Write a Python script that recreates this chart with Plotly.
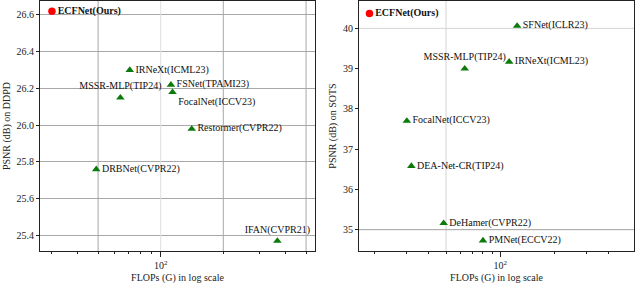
import plotly.graph_objects as go

# ---------------- data ----------------
left_models = ["ECFNet(Ours)", "IRNeXt(ICML23)", "MSSR-MLP(TIP24)", "FSNet(TPAMI23)",
               "FocalNet(ICCV23)", "Restormer(CVPR22)", "DRBNet(CVPR22)", "IFAN(CVPR21)"]
left_flops = [30, 71, 64, 112, 114, 141, 49, 364]
left_psnr = [26.62, 26.30, 26.15, 26.22, 26.18, 25.98, 25.76, 25.37]
left_textpos = ["middle right", "middle right", "top center", "middle right",
                "bottom right", "middle right", "middle right", "top center"]

right_models = ["ECFNet(Ours)", "SFNet(ICLR23)", "MSSR-MLP(TIP24)", "IRNeXt(ICML23)",
                "FocalNet(ICCV23)", "DEA-Net-CR(TIP24)", "DeHamer(CVPR22)", "PMNet(ECCV22)"]
right_flops = [18.8, 124, 63.5, 112, 30.3, 32.1, 48.5, 80.2]
right_psnr = [40.37, 40.06, 39.0, 39.17, 37.70, 36.58, 35.16, 34.73]
right_textpos = ["middle right", "middle right", "top center", "middle right",
                 "middle right", "middle right", "middle right", "middle right"]

left_yticks = [25.4, 25.6, 25.8, 26.0, 26.2, 26.4, 26.6]
right_yticks = [35, 36, 37, 38, 39, 40]
left_minor_x = [30, 40, 50, 60, 70, 80, 90, 200, 300, 400, 500]
right_minor_x = [20, 30, 40, 50, 60, 70, 80, 90, 200, 300, 400]

# grid lines (value, colour)
left_vgrid = [(50, "#a8a8a8"), (100, "#dedede"), (200, "#a8a8a8"), (500, "#a8a8a8")]
right_vgrid = [(50, "#d4d4d4")]
right_hgrid = [(40, "#d4d4d4"), (35, "#a0a0a0")]

FONT = "Liberation Serif, Times New Roman, Times, serif"
GREEN = "#0b7a0b"
RED = "#ff0000"

left_yrange = [25.3155, 26.676]
right_yrange = [34.47, 40.68]
left_xrange = [1.4197, 2.742]
right_xrange = [1.216, 2.742]

fig = go.Figure()

# grid lines as thin traces (per-line colours)
for v, c in left_vgrid:
    fig.add_trace(go.Scatter(x=[v, v], y=left_yrange, mode="lines", line=dict(color=c, width=1),
                             hoverinfo="skip", showlegend=False, xaxis="x", yaxis="y"))
for v, c in right_vgrid:
    fig.add_trace(go.Scatter(x=[v, v], y=right_yrange, mode="lines", line=dict(color=c, width=1),
                             hoverinfo="skip", showlegend=False, xaxis="x2", yaxis="y2"))
for v, c in right_hgrid:
    fig.add_trace(go.Scatter(x=[10 ** right_xrange[0], 10 ** right_xrange[1]], y=[v, v], mode="lines",
                             line=dict(color=c, width=1), hoverinfo="skip", showlegend=False,
                             xaxis="x2", yaxis="y2"))


def add_points(models, flops, psnr, pos, xa, ya):
    labels = ["<b>%s</b>" % m if "Ours" in m else m for m in models]
    colors = [RED if "Ours" in m else GREEN for m in models]
    symbols = ["circle" if "Ours" in m else "triangle-up" for m in models]
    fig.add_trace(go.Scatter(
        x=flops, y=psnr, mode="markers+text", text=labels, textposition=pos,
        textfont=dict(family=FONT, size=10, color="#111111"),
        marker=dict(color=colors, symbol=symbols, size=7.5, line=dict(width=0)),
        showlegend=False, xaxis=xa, yaxis=ya, cliponaxis=False))


add_points(left_models, left_flops, left_psnr, left_textpos, "x", "y")
add_points(right_models, right_flops, right_psnr, right_textpos, "x2", "y2")

axis_common = dict(showline=True, linecolor="#222222", linewidth=1, mirror=True, automargin=False,
                   ticks="outside", ticklen=3, tickcolor="#222222", zeroline=False,
                   tickfont=dict(family=FONT, size=10, color="#222222"))

xcommon = dict(axis_common, type="log", tickvals=[100], ticktext=["10<sup>2</sup>"], showgrid=False,
               ticklen=5,
               title=dict(text="FLOPs (G) in log scale", font=dict(family=FONT, size=10, color="#222222"),
                          standoff=4))

fig.update_layout(
    width=640, height=284, margin=dict(l=0, r=0, t=0, b=0),
    paper_bgcolor="white", plot_bgcolor="white",
    xaxis=dict(xcommon, domain=[40 / 640, 315 / 640], range=left_xrange, anchor="y",
               minor=dict(tickvals=left_minor_x, ticks="outside", ticklen=2, tickcolor="#222222", showgrid=False)),
    xaxis2=dict(xcommon, domain=[359 / 640, 634 / 640], range=right_xrange, anchor="y2",
                minor=dict(tickvals=right_minor_x, ticks="outside", ticklen=2, tickcolor="#222222", showgrid=False)),
    yaxis=dict(axis_common, domain=[1 - 251 / 284, 1 - 1 / 284], range=left_yrange, anchor="x",
               tickvals=left_yticks, ticktext=["%.1f" % v for v in left_yticks],
               showgrid=True, gridcolor="#a8a8a8", gridwidth=1,
               title=dict(text="PSNR (dB) on DDPD", font=dict(family=FONT, size=10, color="#222222"),
                          standoff=4)),
    yaxis2=dict(axis_common, domain=[1 - 251 / 284, 1 - 1 / 284], range=right_yrange, anchor="x2",
                tickvals=right_yticks, showgrid=False,
                title=dict(text="PSNR (dB) on SOTS", font=dict(family=FONT, size=10, color="#222222"),
                           standoff=4)),
)

fig.write_html("out.html", config={"displayModeBar": False},
               post_script="document.body.style.margin='0';document.body.style.padding='0';")
